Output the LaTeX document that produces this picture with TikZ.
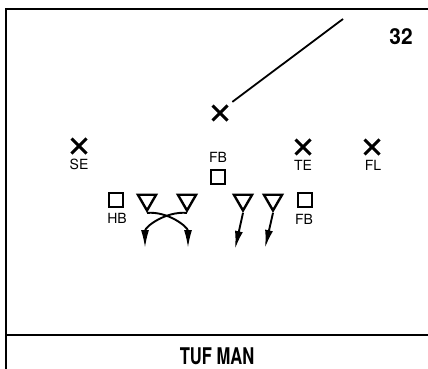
\documentclass[tikz,border=0pt]{standalone}
\usepackage{fontspec}
\setsansfont{TeX Gyre Heros}
\usetikzlibrary{shapes.misc,shapes.geometric,arrows.meta}
\begin{document}
\begin{tikzpicture}[x=1pt,y=-1pt,
  xmark/.style={cross out,draw,line width=3pt,minimum size=12pt,inner sep=0pt},
  sq/.style={draw,line width=2.4pt,minimum size=14pt,inner sep=0pt},
  tri/.style={regular polygon,regular polygon sides=3,shape border rotate=180,draw,line width=2.4pt,minimum size=21pt,inner sep=0pt},
  lbl/.style={font=\sffamily\fontsize{14}{16}\selectfont,inner sep=0pt},
  arr/.style={line width=1.9pt,-{Latex[length=18pt,width=8pt]}},
  frame/.style={line width=2.2pt}]
\useasboundingbox (0,0) rectangle (428,369);
\draw[frame] (6,369) -- (6,9) -- (428,9);
\draw[frame] (6,335) -- (428,335);
\node[font=\sffamily\bfseries\fontsize{22}{24}\selectfont,inner sep=0pt] (num) at (401,37) {\scalebox{0.95}[1]{32}};
\node[font=\sffamily\bfseries\fontsize{23}{25}\selectfont,inner sep=0pt] (title) at (217,356) {\scalebox{0.72}[1]{TUF MAN}};
% players
\node[xmark] (qb) at (220,113) {};
\coordinate (deep) at (343,19);
\draw[line width=1.8pt,shorten <=6pt] (qb.north east) -- (deep);
\node[xmark] (se) at (79,146) {};
\node[lbl] (lse) at (79,164) {SE};
\node[xmark] (te) at (303,147) {};
\node[lbl] (lte) at (303,165) {TE};
\node[xmark] (fl) at (372,147) {};
\node[lbl] (lfl) at (373,165) {FL};
\node[lbl] (lfb1) at (218,157) {FB};
\node[sq] (fb1) at (218,177) {};
\node[sq] (hb) at (116,200) {};
\node[lbl] (lhb) at (117,218) {HB};
\node[sq] (fb2) at (305,200) {};
\node[lbl] (lfb2) at (304,219) {FB};
% defensive linemen
\node[tri] (t1) at (147,200) {};
\node[tri] (t2) at (187,200) {};
\node[tri] (t3) at (243,200) {};
\node[tri] (t4) at (273,200) {};
\coordinate (e1) at (145,248);
\coordinate (e2) at (188,248);
\coordinate (e3) at (235,249);
\coordinate (e4) at (265,248);
\draw[arr] (t1.south) to[out=5,in=90] (e2);
\draw[arr] (t2.south) to[out=175,in=90] (e1);
\draw[arr] (t3.south) -- (e3);
\draw[arr] (t4.south) -- (e4);
\end{tikzpicture}
\end{document}
